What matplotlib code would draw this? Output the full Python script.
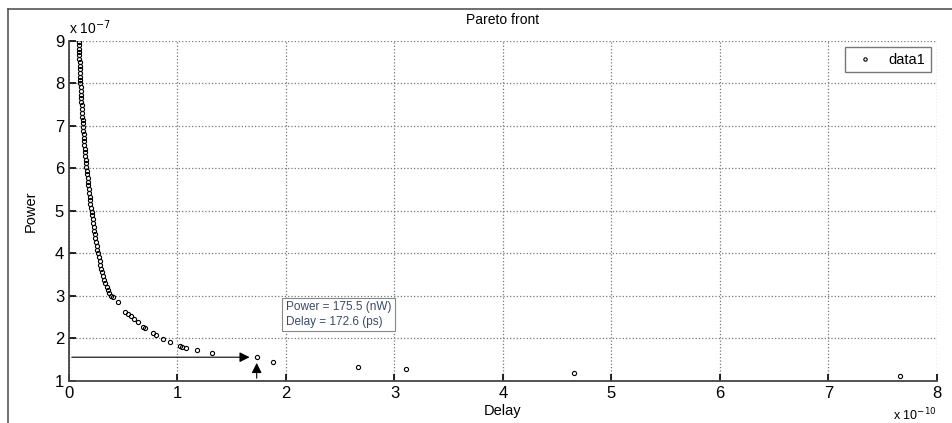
import matplotlib.pyplot as plt
from matplotlib.lines import Line2D

# delay in units of 1e-10 s, power in units of 1e-7 W
delay = [0.090, 0.092, 0.093, 0.094, 0.095, 0.096, 0.097, 0.098, 0.100, 0.101,
         0.103, 0.104, 0.106, 0.108, 0.109, 0.111, 0.113, 0.115, 0.117, 0.119,
         0.121, 0.123, 0.125, 0.127, 0.129, 0.132, 0.134, 0.137, 0.139, 0.142,
         0.145, 0.148, 0.151, 0.154, 0.157, 0.160, 0.164, 0.167, 0.171, 0.174,
         0.178, 0.182, 0.186, 0.190, 0.194, 0.198, 0.203, 0.208, 0.212, 0.217,
         0.222, 0.227, 0.232, 0.238, 0.244, 0.250, 0.256, 0.262, 0.268, 0.275,
         0.282, 0.290, 0.298, 0.306, 0.315, 0.325, 0.335, 0.346, 0.358, 0.372,
         0.388, 0.402,
         0.45, 0.52, 0.54, 0.57, 0.60, 0.64, 0.68, 0.70, 0.77, 0.80,
         0.87, 0.93, 1.02, 1.04, 1.08, 1.18, 1.32, 1.73, 1.88, 2.66,
         3.11, 4.65, 7.66]
power = [8.98, 8.90, 8.82, 8.75, 8.66, 8.58, 8.50, 8.41, 8.33, 8.25,
         8.16, 8.08, 8.00, 7.91, 7.83, 7.74, 7.66, 7.57, 7.49, 7.40,
         7.31, 7.22, 7.14, 7.06, 6.98, 6.89, 6.81, 6.72, 6.64, 6.55,
         6.46, 6.38, 6.30, 6.21, 6.12, 6.04, 5.95, 5.86, 5.77, 5.69,
         5.60, 5.51, 5.42, 5.34, 5.25, 5.16, 5.07, 4.98, 4.90, 4.81,
         4.72, 4.63, 4.54, 4.45, 4.36, 4.27, 4.18, 4.09, 4.00, 3.91,
         3.82, 3.73, 3.64, 3.56, 3.47, 3.38, 3.30, 3.22, 3.14, 3.07,
         3.01, 2.97,
         2.85, 2.63, 2.58, 2.52, 2.46, 2.38, 2.27, 2.24, 2.13, 2.09,
         1.98, 1.92, 1.82, 1.80, 1.78, 1.73, 1.66, 1.56, 1.45, 1.33,
         1.28, 1.19, 1.12]

sel_delay = 1.73
sel_power = 1.56
note = "Power = 175.5 (nW)\nDelay = 172.6 (ps)"

plt.rcParams['font.family'] = ['Liberation Sans', 'DejaVu Sans']

fig = plt.figure(figsize=(9.53, 4.23), dpi=100)
ax = fig.add_axes([0.0724, 0.0993, 0.9108, 0.8038])

# outer frame of the screenshot
fig.add_artist(Line2D([8/953, 8/953], [0, 1 - 9/423], color='#555555', lw=1.2))
fig.add_artist(Line2D([8/953, 1], [1 - 9/423, 1 - 9/423], color='#555555', lw=1.2))

ax.plot(delay, power, 'o', markersize=3, markerfacecolor='none',
        markeredgecolor='black', markeredgewidth=0.8, label='data1')

# arrows pointing to selected solution
ax.annotate('', xy=(sel_delay - 0.04, sel_power), xytext=(0, sel_power),
            arrowprops=dict(arrowstyle='-|>', color='black', lw=0.8,
                            mutation_scale=15))
ax.annotate('', xy=(sel_delay, sel_power - 0.07), xytext=(sel_delay, 1.0),
            arrowprops=dict(arrowstyle='-|>', color='black', lw=0.8,
                            mutation_scale=15))

ax.text(2.0, 2.88, note, fontsize=8.5, color='#3a4a6a', va='top', ha='left',
        linespacing=1.3,
        bbox=dict(boxstyle='square,pad=0.3', fc='white', ec='#888888', lw=0.8))

ax.set_xlim(0, 8)
ax.set_ylim(1, 9)
ax.set_xticks(range(0, 9))
ax.set_yticks(range(1, 10))
ax.grid(True, linestyle=':', color='#777777', lw=0.9)
ax.tick_params(direction='in', labelsize=12, length=5, width=1.2)
for s in ax.spines.values():
    s.set_color('#444444')
    s.set_linewidth(1.3)
ax.spines['top'].set_visible(False)
ax.spines['right'].set_visible(False)

ax.set_title('Pareto front', fontsize=10, pad=12)
ax.set_xlabel('Delay', fontsize=10.5, labelpad=2)
ax.set_ylabel('Power', fontsize=10.5, labelpad=12)

ax.text(0.0, 1.012, r'x 10$^{-7}$', transform=ax.transAxes, fontsize=10,
        ha='left', va='bottom')
ax.text(1.0, -0.075, r'x 10$^{-10}$', transform=ax.transAxes, fontsize=9,
        ha='right', va='top')

leg = ax.legend(loc='upper right', fontsize=10.5, frameon=True, fancybox=False,
                borderaxespad=0.4, handletextpad=0.6, markerscale=0.8)
leg.get_frame().set_edgecolor('#555555')
leg.get_frame().set_linewidth(1.0)

fig.savefig('out.png', dpi=100)
